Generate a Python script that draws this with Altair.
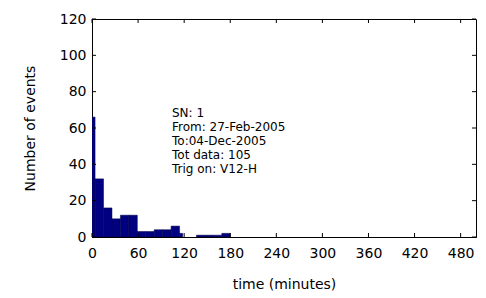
import altair as alt
import pandas as pd

# histogram bins (minutes) and counts
bin_start = [0, 4, 15, 26, 37, 48, 59, 70, 81, 92, 103, 114, 136, 147, 158, 169]
bin_end   = [4, 15, 26, 37, 48, 59, 70, 81, 92, 103, 114, 118, 147, 158, 169, 180]
counts    = [66, 32, 16, 10, 12, 12, 3, 3, 4, 4, 6, 2, 1, 1, 1, 2]

x_ticks = [0, 60, 120, 180, 240, 300, 360, 420, 480]
y_ticks = [0, 20, 40, 60, 80, 100, 120]

info_lines = ["SN: 1", "From: 27-Feb-2005", "To:04-Dec-2005", "Tot data: 105", "Trig on: V12-H"]

W, H = 384, 218
FONT = "DejaVu Sans"

bars_df = pd.DataFrame({"start": bin_start, "end": bin_end, "count": counts})
xt_df = pd.DataFrame({"t": x_ticks})
yt_df = pd.DataFrame({"t": y_ticks})
one_df = pd.DataFrame({"a": [0]})

xs = alt.Scale(domain=[0, 500], nice=False, zero=False)
ys = alt.Scale(domain=[0, 120], nice=False)

x_axis = alt.Axis(values=x_ticks, title="time (minutes)", tickSize=0,
                  labelPadding=9, titlePadding=17, grid=False,
                  labelOverlap=False, labelFlush=False,
                  domainColor="black", labelColor="black", titleColor="black",
                  labelFontSize=14, titleFontSize=14,
                  labelFont=FONT, titleFont=FONT, titleFontWeight="normal")
y_axis = alt.Axis(values=y_ticks, title="Number of events", tickSize=0,
                  labelPadding=6, titlePadding=22, grid=False,
                  labelOverlap=False, labelFlush=False,
                  domainColor="black", labelColor="black", titleColor="black",
                  labelFontSize=14, titleFontSize=14,
                  labelFont=FONT, titleFont=FONT, titleFontWeight="normal")

bars = alt.Chart(bars_df).mark_bar(color="#000080", stroke="#000040", strokeWidth=0.5, clip=True).encode(
    x=alt.X("start:Q", scale=xs, axis=x_axis),
    x2="end:Q",
    y=alt.Y("count:Q", scale=ys, axis=y_axis),
    y2=alt.datum(0),
)

tick_bottom = alt.Chart(xt_df).mark_rule(color="black").encode(
    x=alt.X("t:Q", scale=xs, axis=x_axis), y=alt.value(H), y2=alt.value(H - 4))
tick_top = alt.Chart(xt_df).mark_rule(color="black").encode(
    x=alt.X("t:Q", scale=xs, axis=x_axis), y=alt.value(0), y2=alt.value(4))
tick_left = alt.Chart(yt_df).mark_rule(color="black").encode(
    y=alt.Y("t:Q", scale=ys, axis=y_axis), x=alt.value(0), x2=alt.value(4))
tick_right = alt.Chart(yt_df).mark_rule(color="black").encode(
    y=alt.Y("t:Q", scale=ys, axis=y_axis), x=alt.value(W), x2=alt.value(W - 4))

texts = []
line_y = [94, 108, 122, 136, 150]
for line, yy in zip(info_lines, line_y):
    texts.append(alt.Chart(one_df).mark_text(align="left", baseline="middle", fontSize=12, font=FONT,
                                             color="black").encode(
        x=alt.value(80), y=alt.value(yy), text=alt.value(line)))

chart = alt.layer(bars, tick_bottom, tick_top, tick_left, tick_right, *texts).properties(
    width=W, height=H,
    autosize=alt.AutoSizeParams(type="none"),
    padding={"left": 84, "top": 11, "right": 2, "bottom": 60},
    background="white",
).configure_view(stroke="black", strokeWidth=1)

chart.save("out.html", embed_options={"renderer": "svg", "actions": False})
